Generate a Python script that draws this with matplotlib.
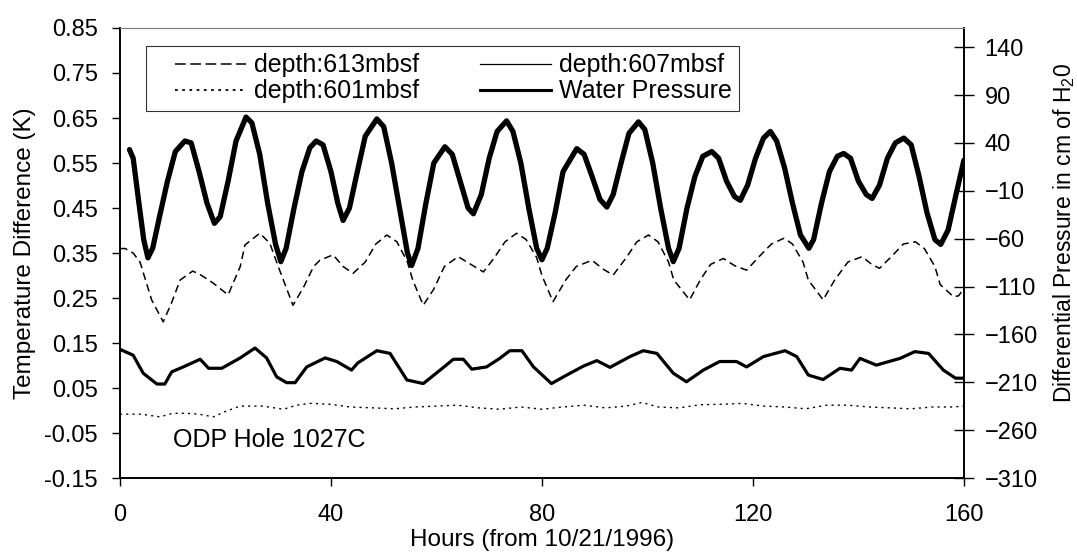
import matplotlib
matplotlib.use("Agg")
import matplotlib.pyplot as plt
from matplotlib.lines import Line2D
from matplotlib.legend_handler import HandlerLine2D

plt.rcParams['font.family'] = ['Liberation Sans', 'DejaVu Sans']

# water pressure (cm of H2O, right axis)
wp_hours = [1.8, 2.5, 3.5, 4.5, 5.3, 6.2, 7.5, 9, 10.5, 12.3, 13.5, 15, 16.5, 17.9, 19, 20.5, 22,
            23.9, 25, 26.5, 28, 29.5, 30.5, 31.5, 33, 34.5, 36, 37.2, 38.5, 40, 41.3, 42.3, 43.5,
            45, 46.5, 48.7, 50, 51.5, 53, 54.5, 55.3, 56.5, 58, 59.5, 61.6, 63, 64.5, 66, 67,
            68.5, 70, 71.5, 73.3, 74.5, 76, 77.5, 79, 80, 81, 82.5, 84, 86.6, 88, 89.5, 91,
            92.3, 93.5, 95, 96.5, 98.3, 99.5, 101, 102.5, 104, 104.9, 106, 107.5, 109, 110.5,
            112.2, 113.5, 115, 116.5, 117.6, 119, 120.5, 122, 123.3, 124.5, 126, 127.5, 129,
            130.6, 131.5, 133, 134.5, 136, 137.2, 138.5, 140, 141.5, 142.6, 144, 145.5, 147,
            148.6, 150, 151.5, 153, 154.5, 155.6, 157, 158.5, 160]
wp_vals = [33, 24, -19, -61, -80, -70, -37, 0, 31, 42, 40, 10, -23, -44, -37, 0, 42,
           67, 61, 28, -23, -66, -84, -70, -28, 10, 35, 42, 38, 10, -23, -41, -28,
           10, 47, 65, 57, 19, -28, -75, -88, -70, -23, 19, 36, 28, 0, -28, -34,
           -14, 24, 52, 63, 52, 19, -28, -70, -82, -70, -33, 10, 34, 28, 5, -19,
           -27, -14, 19, 50, 62, 54, 19, -28, -70, -84, -70, -28, 5, 26,
           31, 24, 0, -16, -20, -4, 24, 45, 52, 42, 14, -23, -56,
           -70, -61, -23, 10, 26, 29, 24, 0, -14, -18, -4, 24, 40,
           45, 38, 5, -33, -61, -66, -51, -14, 22]

# depth 613 mbsf (K)
d613_hours = [0, 1, 2.5, 3.8, 6, 8.2, 9.8, 11.4, 13.8, 15.5, 17.7, 20.5, 22.8, 23.7, 26.5, 28.4,
              30, 32.8, 34.8, 36.7, 37.9, 40.4, 42.3, 44.2, 46.5, 48.5, 50.6, 52.5, 54.5, 55.5,
              57.5, 59.5, 61.5, 64.1, 66.5, 68.9, 71, 73, 75.2, 77, 79, 80, 82.1, 84.5, 86.5,
              89.5, 91.5, 93.5, 96, 98, 100.2, 102, 104, 105, 108, 110, 112, 114.4, 116.5,
              118.8, 121, 123.5, 125.9, 127.5, 129.5, 130.5, 133.3, 135.5, 138, 140.7, 142.5,
              144, 146.5, 148.5, 150.8, 152.5, 154.5, 155.5, 158, 159, 160]
d613_vals = [0.36, 0.36, 0.35, 0.33, 0.246, 0.197, 0.24, 0.29, 0.31, 0.30, 0.283, 0.257, 0.32,
             0.368, 0.394, 0.372, 0.32, 0.234, 0.274, 0.32, 0.334, 0.346, 0.32, 0.305, 0.33,
             0.37, 0.39, 0.375, 0.33, 0.29, 0.234, 0.27, 0.32, 0.342, 0.325, 0.308, 0.34,
             0.375, 0.394, 0.38, 0.34, 0.30, 0.242, 0.29, 0.32, 0.334, 0.315, 0.301, 0.34,
             0.375, 0.39, 0.375, 0.33, 0.29, 0.246, 0.29, 0.325, 0.338, 0.322, 0.312, 0.34,
             0.37, 0.383, 0.37, 0.33, 0.29, 0.246, 0.29, 0.33, 0.342, 0.325, 0.316, 0.345,
             0.37, 0.375, 0.36, 0.32, 0.28, 0.253, 0.255, 0.272]

# depth 607 mbsf (K)
d607_hours = [0, 2.5, 4.4, 7, 8.5, 9.8, 12, 15.2, 16.8, 19.3, 22.8, 25.6, 27.8, 29.7, 31.6, 33.2,
              35.4, 38.9, 41.1, 43.9, 45.1, 48.7, 51.2, 54.4, 57.5, 60.7, 63.2, 65.1, 66.7,
              69.5, 72, 73.9, 76.2, 78.4, 81.8, 84.7, 87.9, 90.4, 92.9, 96.7, 99.2, 101.8,
              104.9, 107.4, 110.6, 113.7, 116.9, 118.8, 122, 126.1, 128.3, 130.5, 133.3,
              136.5, 138.7, 140.3, 143.4, 147.9, 150.7, 153.3, 156.1, 158.4, 160]
d607_vals = [0.136, 0.123, 0.083, 0.059, 0.059, 0.086, 0.097, 0.114, 0.094, 0.094, 0.117, 0.139,
             0.117, 0.075, 0.062, 0.062, 0.097, 0.117, 0.109, 0.09, 0.106, 0.133, 0.127,
             0.068, 0.06, 0.09, 0.114, 0.114, 0.092, 0.097, 0.116, 0.133, 0.133, 0.097,
             0.06, 0.079, 0.099, 0.111, 0.096, 0.12, 0.133, 0.127, 0.083, 0.064, 0.09,
             0.109, 0.109, 0.097, 0.12, 0.133, 0.12, 0.079, 0.069, 0.094, 0.09, 0.116,
             0.101, 0.116, 0.131, 0.127, 0.09, 0.072, 0.072]

# depth 601 mbsf (K)
d601_hours = [0, 4, 7.6, 10, 12.6, 15, 17.7, 20, 22.8, 27, 31, 33.5, 36, 40, 43.6, 48, 52, 56, 60,
              64, 68, 72, 76, 80, 84, 88, 92, 96, 99, 102, 106, 110, 114, 118, 122, 126, 130,
              134, 138, 142, 146, 150, 154, 158, 160]
d601_vals = [-0.008, -0.008, -0.014, -0.006, -0.006, -0.008, -0.014, -0.002, 0.01, 0.01, 0.003,
             0.012, 0.016, 0.014, 0.008, 0.006, 0.004, 0.008, 0.01, 0.012, 0.006, 0.003,
             0.008, 0.003, 0.008, 0.012, 0.006, 0.01, 0.018, 0.008, 0.006, 0.013, 0.014,
             0.016, 0.01, 0.008, 0.004, 0.012, 0.012, 0.008, 0.006, 0.004, 0.008, 0.008, 0.01]

left_ticks = [-0.15, -0.05, 0.05, 0.15, 0.25, 0.35, 0.45, 0.55, 0.65, 0.75, 0.85]
right_ticks = [-310, -260, -210, -160, -110, -60, -10, 40, 90, 140]
x_ticks = [0, 40, 80, 120, 160]

FS = 17


class LeadHandler(HandlerLine2D):
    # leaves a gap before the legend line, like the original legend
    def get_xdata(self, legend, xdescent, ydescent, width, height, fontsize):
        lead = 0.85 * fontsize
        return ([-xdescent + lead, -xdescent + width],
                [-xdescent + lead + 0.5 * (width - lead)])


def main():
    fig = plt.figure(figsize=(10.77, 5.54), dpi=100)
    ax = fig.add_axes([0.1114, 0.137, 0.7836, 0.8125])
    ax2 = ax.twinx()

    ax.plot(d613_hours, d613_vals, color='k', lw=1.1, dashes=(5, 3))
    ax.plot(d601_hours, d601_vals, color='k', lw=1.0, dashes=(1.5, 3))
    ax.plot(d607_hours, d607_vals, color='k', lw=2.3)
    ax2.plot(wp_hours, wp_vals, color='k', lw=3.8, solid_capstyle='round',
             solid_joinstyle='round')

    ax.set_xlim(0, 160)
    ax.set_ylim(-0.15, 0.85)
    ax2.set_ylim(-310, 160)
    ax.set_xticks(x_ticks)
    ax.set_yticks(left_ticks)
    ax.set_yticklabels(['%.2f' % t for t in left_ticks])
    ax2.set_yticks(right_ticks)

    ax.tick_params(axis='both', direction='out', length=6, width=1, labelsize=FS)
    ax.tick_params(axis='y', pad=10)
    ax.tick_params(axis='x', pad=13)
    ax2.tick_params(axis='y', direction='inout', length=14, width=1, labelsize=FS, pad=8)

    for a in (ax, ax2):
        a.spines['top'].set_color('#808080')
        a.spines['left'].set_linewidth(1.2)
        a.spines['bottom'].set_linewidth(1.2)
        a.spines['right'].set_linewidth(1.2)

    ax.set_xlabel('Hours (from 10/21/1996)', fontsize=17.5, labelpad=2)
    ax.set_ylabel('Temperature Difference (K)', fontsize=17.5, labelpad=6)
    ax2.set_ylabel(r'Differential Pressure in cm of H$_{\mathregular{2}}$0', fontsize=16.5)
    ax2.yaxis.set_label_coords(1.103, 0.545)

    ax.text(10, -0.066, 'ODP Hole 1027C', fontsize=18, ha='left', va='center')

    handles = [Line2D([], [], color='k', lw=1.1, dashes=(7, 3)),
               Line2D([], [], color='k', lw=1.3, dashes=(1.5, 2.5)),
               Line2D([], [], color='k', lw=0.9),
               Line2D([], [], color='k', lw=2.2)]
    labels = ['depth:613mbsf', 'depth:601mbsf', 'depth:607mbsf', 'Water Pressure']
    leg = ax2.legend(handles, labels, ncol=2, loc='upper left', bbox_to_anchor=(0.031, 0.96),
                     fontsize=18, frameon=True, fancybox=False, handlelength=3.7,
                     handletextpad=0.3, columnspacing=1.6, labelspacing=0.08,
                     borderpad=0.3, borderaxespad=0,
                     handler_map={Line2D: LeadHandler()})
    leg.get_frame().set_edgecolor('k')
    leg.get_frame().set_linewidth(0.8)

    fig.savefig('out.png', dpi=100)


if __name__ == "__main__":
    main()
